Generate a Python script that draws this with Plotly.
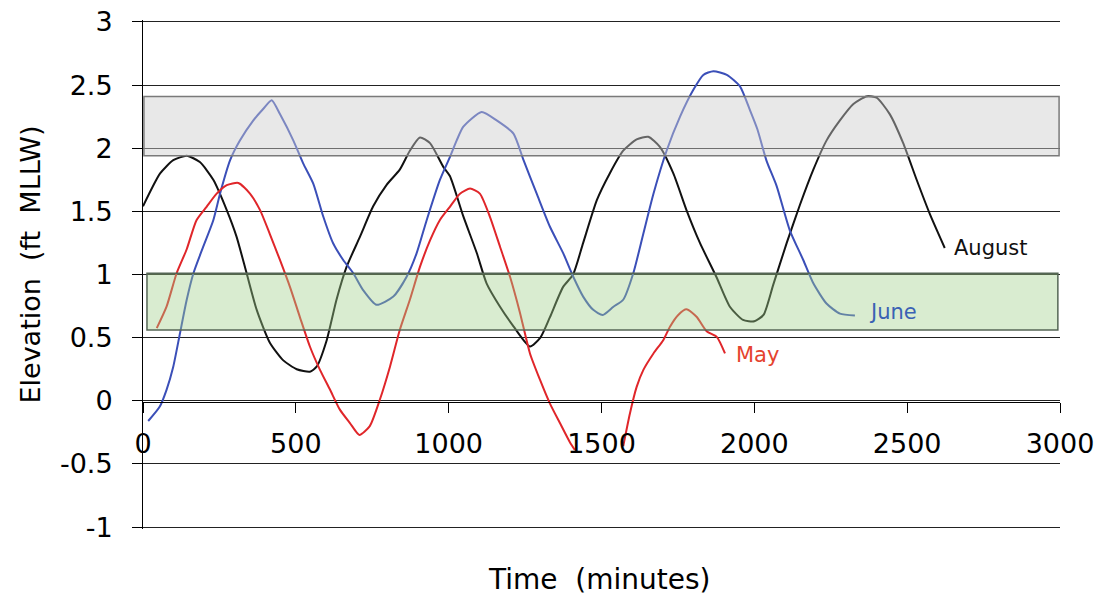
import plotly.graph_objects as go

# ---- data ----
aug_t = [0, 56, 99, 143, 186, 230, 274, 306, 339, 372, 415, 459, 503, 546, 568, 601, 633, 666, 710, 753,
         797, 840, 873, 906, 939, 983, 1004, 1048, 1092, 1124, 1168, 1212, 1266, 1300, 1331, 1374, 1407,
         1440, 1485, 1527, 1571, 1615, 1653, 1691, 1735, 1778, 1822, 1876, 1920, 1963, 2000, 2030, 2062,
         2106, 2149, 2193, 2236, 2280, 2324, 2367, 2400, 2443, 2487, 2531, 2574, 2623]
aug_h = [1.54, 1.80, 1.905, 1.94, 1.89, 1.75, 1.51, 1.30, 1.01, 0.72, 0.46, 0.32, 0.25, 0.23, 0.27, 0.48,
         0.80, 1.06, 1.30, 1.54, 1.71, 1.83, 1.98, 2.085, 2.04, 1.85, 1.78, 1.46, 1.17, 0.93, 0.745, 0.59,
         0.43, 0.50, 0.66, 0.90, 1.00, 1.25, 1.59, 1.80, 1.98, 2.07, 2.09, 2.01, 1.80, 1.51, 1.25, 0.98,
         0.745, 0.64, 0.63, 0.68, 0.92, 1.25, 1.55, 1.83, 2.06, 2.22, 2.35, 2.41, 2.40, 2.27, 2.04, 1.75,
         1.48, 1.21]

jun_t = [17, 55, 77, 99, 121, 143, 165, 197, 230, 252, 285, 317, 361, 393, 421, 448, 492, 524, 557, 590,
         622, 655, 688, 720, 764, 819, 862, 895, 928, 971, 1004, 1026, 1048, 1108, 1157, 1212, 1245, 1288,
         1331, 1375, 1408, 1440, 1473, 1504, 1539, 1571, 1604, 1637, 1670, 1713, 1757, 1800, 1833, 1866,
         1910, 1953, 1986, 2010, 2040, 2073, 2116, 2160, 2193, 2236, 2280, 2329]
jun_h = [-0.16, -0.045, 0.087, 0.27, 0.535, 0.80, 1.01, 1.22, 1.43, 1.64, 1.905, 2.06, 2.22, 2.31, 2.38,
         2.27, 2.06, 1.88, 1.72, 1.457, 1.247, 1.115, 1.01, 0.877, 0.76, 0.825, 0.98, 1.167, 1.43, 1.747,
         1.93, 2.06, 2.17, 2.287, 2.22, 2.116, 1.905, 1.64, 1.38, 1.167, 0.98, 0.825, 0.72, 0.68, 0.745,
         0.80, 1.01, 1.325, 1.64, 1.98, 2.25, 2.46, 2.58, 2.61, 2.58, 2.49, 2.30, 2.15, 1.90, 1.70, 1.35,
         1.115, 0.93, 0.77, 0.69, 0.675]

may_t = [45, 77, 110, 143, 175, 208, 241, 274, 312, 350, 383, 415, 448, 481, 513, 546, 579, 612, 644, 677,
         708, 742, 775, 808, 840, 873, 906, 939, 971, 1004, 1037, 1070, 1102, 1135, 1168, 1201, 1233, 1266,
         1299, 1331, 1364, 1397, 1413, None,
         1571, 1593, 1615, 1637, 1670, 1702, 1724, 1751, 1778, 1811, 1844, 1877, 1904]
may_h = [0.575, 0.745, 1.01, 1.20, 1.43, 1.536, 1.64, 1.707, 1.725, 1.64, 1.51, 1.32, 1.115, 0.90, 0.665,
         0.43, 0.245, 0.087, -0.07, -0.176, -0.27, -0.20, 0.01, 0.27, 0.56, 0.80, 1.06, 1.27, 1.43, 1.536,
         1.64, 1.68, 1.64, 1.457, 1.22, 0.98, 0.70, 0.375, 0.165, -0.02, -0.176, -0.33, -0.39, None,
         -0.36, -0.10, 0.11, 0.245, 0.375, 0.48, 0.587, 0.68, 0.725, 0.665, 0.55, 0.506, 0.375]

high_band = (1.94, 2.41)
low_band = (0.56, 1.01)

labels = ["August", "June", "May"]
label_pos = [(2648, 1.21), (2370, 0.705), (1935, 0.365)]

x_ticks = [0, 500, 1000, 1500, 2000, 2500, 3000]
y_ticks = [-1, -0.5, 0, 0.5, 1, 1.5, 2, 2.5, 3]
y_ticktext = ["-1", "-0.5", "0", "0.5", "1", "1.5", "2", "2.5", "3"]

FONT = "DejaVu Sans"
AUG_C = "#111111"
JUN_C = "#3b4fb8"
MAY_C = "#e0262a"

fig = go.Figure()
line_kw = dict(width=2, shape="spline", smoothing=0.6)
fig.add_trace(go.Scatter(x=aug_t, y=aug_h, mode="lines", line=dict(color=AUG_C, **line_kw), showlegend=False))
fig.add_trace(go.Scatter(x=jun_t, y=jun_h, mode="lines", line=dict(color=JUN_C, **line_kw), showlegend=False))
fig.add_trace(go.Scatter(x=may_t, y=may_h, mode="lines", line=dict(color=MAY_C, **line_kw),
                         connectgaps=False, showlegend=False))

# shaded bands (drawn above lines, semi-transparent)
fig.add_shape(type="rect", xref="x", yref="y", x0=3, x1=2997, y0=high_band[0], y1=high_band[1],
              fillcolor="rgba(203,203,203,0.45)", line=dict(color="#7a7a7a", width=1.5), layer="above")
fig.add_shape(type="rect", xref="x", yref="y", x0=13, x1=2993, y0=low_band[0], y1=low_band[1],
              fillcolor="rgba(160,207,137,0.40)", line=dict(color="#556655", width=1.5), layer="above")

label_colors = [AUG_C, "#3a62b4", "#e5432e"]
for txt, (lx, ly), c in zip(labels, label_pos, label_colors):
    fig.add_annotation(x=lx, y=ly, xref="x", yref="y", text=txt, showarrow=False,
                       xanchor="left", yanchor="middle", font=dict(family=FONT, size=21, color=c))

# axis titles
fig.add_annotation(text="Elevation  (ft  MLLW)", xref="paper", yref="paper", x=-0.123, y=0.52,
                   showarrow=False, textangle=-90, xanchor="center", yanchor="middle",
                   font=dict(family=FONT, size=27, color="black"))
fig.add_annotation(text="Time  (minutes)", xref="paper", yref="paper", x=0.498, y=-0.1,
                   showarrow=False, xanchor="center", yanchor="middle",
                   font=dict(family=FONT, size=28, color="black"))

fig.update_layout(
    width=1103, height=598,
    margin=dict(l=143, r=43, t=20, b=69, autoexpand=False),
    paper_bgcolor="white", plot_bgcolor="white",
    font=dict(family=FONT, color="black"),
    xaxis=dict(range=[0, 3000], tickvals=x_ticks, anchor="free", position=0.25, automargin=False,
               showline=True, linecolor="black", linewidth=1, ticks="outside", ticklen=10,
               tickcolor="black", showgrid=False, zeroline=False,
               tickfont=dict(family=FONT, size=27, color="black"), ticklabelstandoff=8),
    yaxis=dict(range=[-1.015, 3.015], tickvals=y_ticks, ticktext=y_ticktext, automargin=False,
               showline=True, linecolor="black", linewidth=1, ticks="outside", ticklen=10,
               tickcolor="black", showgrid=True, gridcolor="#222222", gridwidth=1, zeroline=False,
               tickfont=dict(family=FONT, size=27, color="black"), ticklabelstandoff=14),
)

fig.write_html("out.html")
